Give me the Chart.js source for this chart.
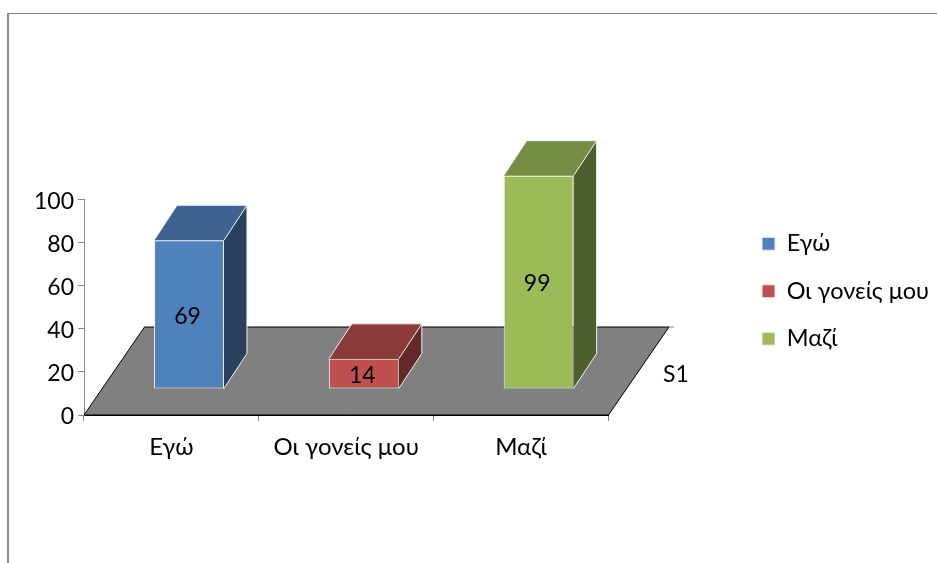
<!DOCTYPE html>
<html lang="el"><head><meta charset="utf-8">
<style>
html,body{margin:0;padding:0;background:#fff;width:937px;height:563px;overflow:hidden}
#wrap{position:relative;width:937px;height:563px}
#frame{position:absolute;left:7px;top:13px;right:0;bottom:0;border-left:2px solid #8c8c8c;border-top:1px solid #7f7f7f}
canvas{position:absolute;left:0;top:0}
</style>
<script src="https://cdn.jsdelivr.net/npm/chart.js@4"></script>
</head><body><div id="wrap"><div id="frame"></div><canvas id="c" width="937" height="563"></canvas></div>
<script>
const categories = ['Εγώ', 'Οι γονείς μου', 'Μαζί'];
const seriesNames = ['Εγώ', 'Οι γονείς μου', 'Μαζί'];
const valuesEgo = [69, null, null];
const valuesParents = [null, 14, null];
const valuesTogether = [null, null, 99];
const yTicks = [0, 20, 40, 60, 80, 100];
const depthLabels = ['S1'];
const frontColors = ['#4f81bd', '#c0504d', '#9bbb59'];
const topColors = ['#3f6290', '#8c3a38', '#758e43'];
const sideColors = ['#29405f', '#622927', '#4e5f2d'];

const FONT = 'Lato';
const TEXT_SIZE = 23.5;
const TICK_SIZE = 24;
const NUM_SIZE = 23;
const shiftX = 17.6, shiftY = -26, depthX = 23, depthY = -35;
const floorX = 60.5, floorY = -88;

const threeD = {
  id: 'threeD',
  afterLayout(chart) {
    const l = chart.legend;
    const w = l.width, h = l.height, pad = l.options.labels.padding;
    l.left = 762 - pad; l.right = l.left + w;
    l.top = 232 - pad; l.bottom = l.top + h;
    l.adjustHitBoxes();
  },
  beforeDatasetsDraw(chart) {
    const {ctx, scales:{x, y}} = chart;
    const y0 = y.getPixelForValue(0);
    ctx.save();
    ctx.beginPath();
    ctx.moveTo(x.left, y0);
    ctx.lineTo(x.right, y0);
    ctx.lineTo(x.right + floorX, y0 + floorY);
    ctx.lineTo(x.left + floorX, y0 + floorY);
    ctx.closePath();
    ctx.fillStyle = '#808080';
    ctx.fill();
    ctx.strokeStyle = '#000';
    ctx.lineWidth = 1;
    ctx.stroke();
    ctx.strokeStyle = '#868686';
    ctx.beginPath();
    ctx.moveTo(x.right + floorX, y0 + floorY);
    ctx.lineTo(x.right + floorX + 5, y0 + floorY);
    ctx.stroke();
    ctx.fillStyle = '#000';
    ctx.font = NUM_SIZE + 'px ' + FONT;
    ctx.textAlign = 'center';
    ctx.textBaseline = 'middle';
    ctx.fillText(depthLabels[0], 676, 375);
    ctx.restore();
  },
  beforeDatasetDraw(chart) {
    chart.ctx.save();
    chart.ctx.translate(shiftX, shiftY);
  },
  afterDatasetDraw(chart, args) {
    const ctx = chart.ctx;
    const i = args.index;
    const meta = args.meta;
    meta.data.forEach((el, k) => {
      const v = chart.data.datasets[i].data[k];
      if (v === null) return;
      const p = el.getProps(['x', 'y', 'base', 'width'], true);
      const L = p.x - p.width / 2, R = p.x + p.width / 2;
      ctx.strokeStyle = '#eef2f6';
      ctx.lineWidth = 1;
      ctx.lineJoin = 'round';
      ctx.beginPath();
      ctx.moveTo(L, p.y); ctx.lineTo(R, p.y);
      ctx.lineTo(R + depthX, p.y + depthY); ctx.lineTo(L + depthX, p.y + depthY);
      ctx.closePath();
      ctx.fillStyle = topColors[i]; ctx.fill();
      ctx.beginPath();
      ctx.moveTo(R, p.y); ctx.lineTo(R + depthX, p.y + depthY);
      ctx.lineTo(R + depthX, p.base + depthY); ctx.lineTo(R, p.base);
      ctx.closePath();
      ctx.fillStyle = sideColors[i]; ctx.fill();
      ctx.beginPath();
      ctx.moveTo(L, p.y); ctx.lineTo(L + depthX, p.y + depthY);
      ctx.lineTo(R + depthX, p.y + depthY); ctx.lineTo(R + depthX, p.base + depthY);
      ctx.lineTo(R, p.base);
      ctx.moveTo(R, p.y); ctx.lineTo(R + depthX, p.y + depthY);
      ctx.stroke();
      ctx.fillStyle = '#000';
      ctx.font = NUM_SIZE + 'px ' + FONT;
      ctx.textAlign = 'center';
      ctx.textBaseline = 'middle';
      ctx.fillText(String(v), p.x - 1.5, (p.y + p.base) / 2 + 2);
    });
    ctx.restore();
  }
};

const seriesValues = [valuesEgo, valuesParents, valuesTogether];
new Chart(document.getElementById('c'), {
  type: 'bar',
  plugins: [threeD],
  data: {
    labels: categories,
    datasets: seriesNames.map((name, i) => ({
      label: name,
      data: seriesValues[i],
      backgroundColor: frontColors[i],
      borderColor: '#f0f3f7',
      borderWidth: 1,
      borderSkipped: false,
      grouped: false,
      categoryPercentage: 1,
      barPercentage: 0.4
    }))
  },
  options: {
    responsive: false,
    animation: false,
    layout: {padding: {left: 0, top: 199.5, right: 127.5, bottom: 0}},
    plugins: {
      tooltip: {enabled: false},
      legend: {
        position: 'right', align: 'start',
        labels: {
          boxWidth: 13, boxHeight: 13, padding: 24, color: '#000',
          font: {family: FONT, size: TEXT_SIZE}
        },
        onClick: null
      }
    },
    scales: {
      x: {
        grid: {display: true, drawOnChartArea: false, color: '#868686', tickLength: 6},
        border: {color: '#000'},
        ticks: {color: '#000', font: {family: FONT, size: TICK_SIZE}, padding: 12, maxRotation: 0, autoSkip: false},
        afterFit(s) { s.height = 563 - 415; }
      },
      y: {
        min: 0, max: 100,
        afterBuildTicks(s) { s.ticks = yTicks.map(v => ({value: v})); },
        grid: {display: true, drawOnChartArea: false, color: '#868686', tickLength: 6},
        border: {color: '#868686'},
        ticks: {color: '#000', font: {family: FONT, size: NUM_SIZE}, padding: 4, labelOffset: 2},
        afterFit(s) { s.width = 84; }
      }
    }
  }
});
</script></body></html>
